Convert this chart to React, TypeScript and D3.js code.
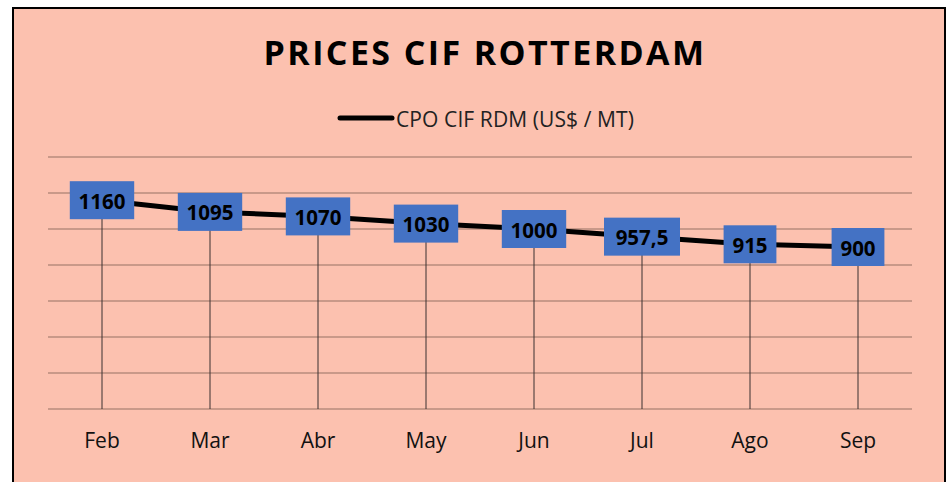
import React from "react";
import * as d3 from "d3";

const categories = ["Feb", "Mar", "Abr", "May", "Jun", "Jul", "Ago", "Sep"];
const values = [1160, 1095, 1070, 1030, 1000, 957.5, 915, 900];
const labels = ["1160", "1095", "1070", "1030", "1000", "957,5", "915", "900"];
const yTicks = [0, 200, 400, 600, 800, 1000, 1200, 1400];
const title = "PRICES CIF ROTTERDAM";
const seriesName = "CPO CIF RDM (US$ / MT)";

const W = 952;
const H = 482;
const left = 48;
const right = 912;
const top = 157;
const bottom = 409;

export default function App() {
  const x = d3.scaleBand<string>().domain(categories).range([left, right]);
  const y = d3.scaleLinear().domain([0, 1400]).range([bottom, top]);
  const cx = (c: string) => (x(c) ?? 0) + x.bandwidth() / 2;
  const line = d3
    .line<number>()
    .x((_, i) => cx(categories[i]))
    .y((d) => y(d));
  const font = "'Open Sans', 'Liberation Sans', sans-serif";
  const charW = 11.6;
  return (
    <svg width={W} height={H} style={{ position: "absolute", left: 0, top: 0 }}>
      <rect x={0} y={0} width={W} height={H} fill="#fff" />
      <rect x={13} y={8} width={932} height={500} fill="#FCC1AF" stroke="#000" strokeWidth={2} />
      <text x={485} y={65} textAnchor="middle" fontFamily={font} fontWeight={700} fontSize={34} fill="#000" letterSpacing={2.4}>
        {title}
      </text>
      <line x1={340} x2={392} y1={118} y2={118} stroke="#000" strokeWidth={5} strokeLinecap="round" />
      <text x={396} y={127} fontFamily={font} fontSize={21} fill="#222" letterSpacing={0.1}>
        {seriesName}
      </text>
      {yTicks.map((t) => (
        <line key={t} x1={left} x2={right} y1={y(t)} y2={y(t)} stroke="#B98B7D" strokeWidth={1.5} />
      ))}
      {categories.map((c, i) => (
        <line key={c} x1={cx(c)} x2={cx(c)} y1={y(values[i])} y2={bottom} stroke="#3a3030" strokeWidth={1} />
      ))}
      <path d={line(values) ?? ""} fill="none" stroke="#000" strokeWidth={5} />
      {categories.map((c, i) => {
        const w = labels[i].length * charW + 18;
        return (
          <g key={c}>
            <rect x={cx(c) - w / 2} y={y(values[i]) - 19} width={w} height={38} fill="#4472C4" />
            <text x={cx(c)} y={y(values[i]) + 8.5} textAnchor="middle" fontFamily={font} fontWeight={700} fontSize={20.5} fill="#000">
              {labels[i]}
            </text>
          </g>
        );
      })}
      {categories.map((c) => (
        <text key={c} x={cx(c)} y={448} textAnchor="middle" fontFamily={font} fontSize={21} fill="#111">
          {c}
        </text>
      ))}
    </svg>
  );
}
